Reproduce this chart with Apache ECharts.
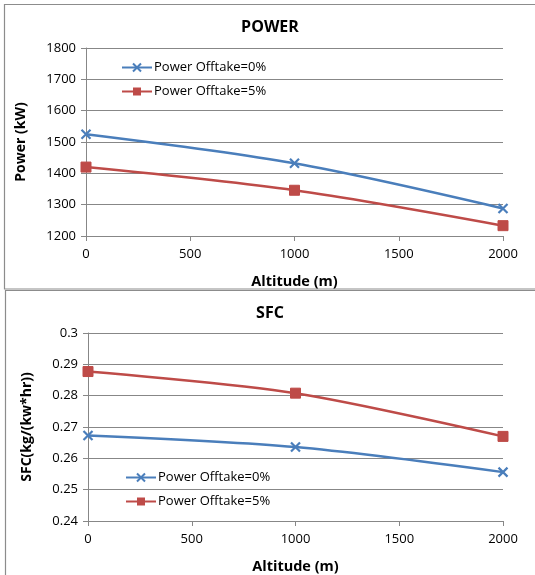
<!DOCTYPE html>
<html>
<head>
<meta charset="utf-8">
<script src="https://cdn.jsdelivr.net/npm/echarts@6/dist/echarts.min.js"></script>
<style>
html,body{margin:0;padding:0;background:#fff;}
#c{width:535px;height:575px;}
</style>
</head>
<body>
<div id="c"></div>
<script>
var altitude = [0, 1000, 2000];
var power0 = [1525, 1432, 1288];
var power5 = [1420, 1346, 1233];
var sfc0 = [0.2673, 0.2636, 0.2556];
var sfc5 = [0.2877, 0.2808, 0.2670];
var seriesNames = ['Power Offtake=0%', 'Power Offtake=5%'];

var BLUE = '#4A7EBB', RED = '#BE4B48', AX = '#878787';
var FONT = '"Open Sans", Lato, "Liberation Sans", sans-serif';
var CROSS = 'path://M0,0 L10,10 M10,0 L0,10';

function pairs(xs, ys){ return xs.map(function(x,i){ return [x, ys[i]]; }); }

function xAxis(idx){
  return {
    type:'value', gridIndex:idx, min:0, max:2000, interval:500,
    name:'Altitude (m)', nameLocation:'middle', nameGap:38,
    nameTextStyle:{fontFamily:FONT, fontWeight:'bold', fontSize:14.5, color:'#000'},
    axisLine:{show:true, lineStyle:{color:AX, width:1}},
    axisTick:{show:true, length:5, lineStyle:{color:AX}},
    axisLabel:{fontFamily:FONT, fontSize:13, color:'#000', margin:12,
      formatter:function(v){return String(v);}},
    splitLine:{show:false}
  };
}

var chart = echarts.init(document.getElementById('c'), null, {renderer:'canvas'});
var lineSeries = function(name, xi, data, color, cross){
  return {
    name:name, type:'line', xAxisIndex:xi, yAxisIndex:xi, data:data, smooth:0.3,
    symbol: cross ? CROSS : 'rect', symbolSize: cross ? 9 : 10,
    lineStyle:{color:color, width:2.5},
    itemStyle: cross ? {color:'none', borderColor:color, borderWidth:2.2} : {color:color, borderColor:color},
    emphasis:{disabled:true}, animation:false
  };
};

function legend(left, top){
  return {data:seriesNames, orient:'vertical', left:left, top:top, padding:0, itemGap:11, itemWidth:30, itemHeight:10,
    textStyle:{fontFamily:FONT, fontSize:13, color:'#000', padding:[0,0,0,-3]}, selectedMode:false};
}

chart.setOption({
  animation:false,
  graphic:[
    {type:'rect', shape:{x:4.5, y:4.5, width:540, height:284.5}, style:{fill:'none', stroke:'#8c8c8c', lineWidth:1.2}},
    {type:'rect', shape:{x:5.5, y:290.5, width:540, height:300}, style:{fill:'none', stroke:'#8c8c8c', lineWidth:1.2}}
  ],
  title:[
    {text:'POWER', left:265, top:14, textAlign:'center', textStyle:{fontFamily:FONT, fontWeight:'bold', fontSize:16, color:'#000'}},
    {text:'SFC', left:265, top:300, textAlign:'center', textStyle:{fontFamily:FONT, fontWeight:'bold', fontSize:16, color:'#000'}}
  ],
  legend:[legend(121, 61), legend(125, 471)],
  grid:[
    {left:86, top:48, width:417, height:188},
    {left:88, top:333, width:415, height:191}
  ],
  xAxis:[xAxis(0), xAxis(1)],
  yAxis:[
    {type:'value', gridIndex:0, min:1200, max:1800, interval:100,
     name:'Power (kW)', nameLocation:'middle', nameGap:58,
     nameTextStyle:{fontFamily:FONT, fontWeight:'bold', fontSize:14, color:'#000'},
     axisLine:{show:true, lineStyle:{color:AX}}, axisTick:{show:true, length:5, lineStyle:{color:AX}},
     axisLabel:{fontFamily:FONT, fontSize:13, color:'#000', margin:10,
       formatter:function(v){return String(v);}},
     splitLine:{show:true, lineStyle:{color:AX, width:1}}},
    {type:'value', gridIndex:1, min:0.24, max:0.3, interval:0.01,
     name:'SFC(kg/(kw*hr))', nameLocation:'middle', nameGap:54,
     nameTextStyle:{fontFamily:FONT, fontWeight:'bold', fontSize:14, color:'#000'},
     axisLine:{show:true, lineStyle:{color:AX}}, axisTick:{show:true, length:5, lineStyle:{color:AX}},
     axisLabel:{fontFamily:FONT, fontSize:13, color:'#000', margin:10,
       formatter:function(v){return String(Math.round(v*100)/100);}},
     splitLine:{show:true, lineStyle:{color:AX, width:1}}}
  ],
  series:[
    lineSeries(seriesNames[0], 0, pairs(altitude, power0), BLUE, true),
    lineSeries(seriesNames[1], 0, pairs(altitude, power5), RED, false),
    lineSeries(seriesNames[0], 1, pairs(altitude, sfc0), BLUE, true),
    lineSeries(seriesNames[1], 1, pairs(altitude, sfc5), RED, false)
  ]
});
</script>
</body>
</html>
